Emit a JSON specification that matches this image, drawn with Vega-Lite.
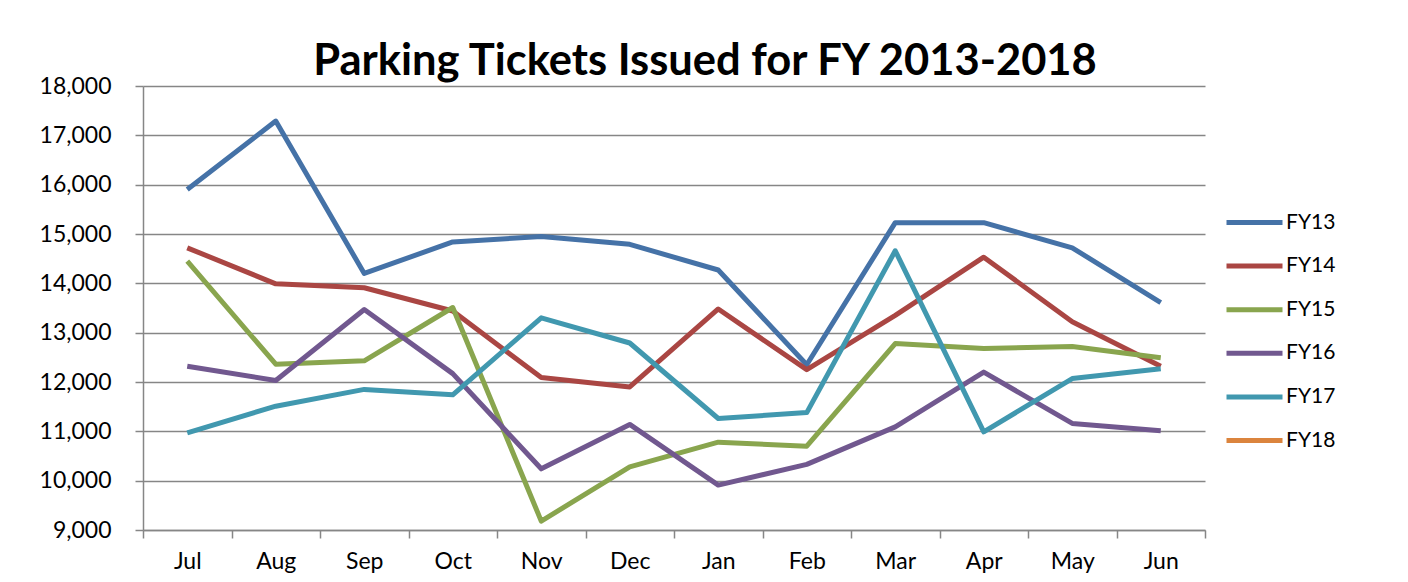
{
  "$schema": "https://vega.github.io/schema/vega-lite/v6.json",
  "width": 1062,
  "height": 444,
  "autosize": "none",
  "padding": {"left": 143, "top": 86, "right": 203, "bottom": 52},
  "background": "white",
  "title": {
    "text": "Parking Tickets Issued for FY 2013-2018",
    "font": "Lato",
    "fontSize": 43.5,
    "fontWeight": "bold",
    "color": "#000000",
    "anchor": "middle",
    "dx": 31,
    "dy": 21,
    "offset": 12
  },
  "data": {
    "values": [
      {"month": "Jul", "fy": "FY13", "tickets": 15900},
      {"month": "Aug", "fy": "FY13", "tickets": 17290},
      {"month": "Sep", "fy": "FY13", "tickets": 14200},
      {"month": "Oct", "fy": "FY13", "tickets": 14840},
      {"month": "Nov", "fy": "FY13", "tickets": 14950},
      {"month": "Dec", "fy": "FY13", "tickets": 14790},
      {"month": "Jan", "fy": "FY13", "tickets": 14270},
      {"month": "Feb", "fy": "FY13", "tickets": 12350},
      {"month": "Mar", "fy": "FY13", "tickets": 15230},
      {"month": "Apr", "fy": "FY13", "tickets": 15230},
      {"month": "May", "fy": "FY13", "tickets": 14720},
      {"month": "Jun", "fy": "FY13", "tickets": 13610},
      {"month": "Jul", "fy": "FY14", "tickets": 14720},
      {"month": "Aug", "fy": "FY14", "tickets": 13990},
      {"month": "Sep", "fy": "FY14", "tickets": 13910},
      {"month": "Oct", "fy": "FY14", "tickets": 13440},
      {"month": "Nov", "fy": "FY14", "tickets": 12090},
      {"month": "Dec", "fy": "FY14", "tickets": 11900},
      {"month": "Jan", "fy": "FY14", "tickets": 13480},
      {"month": "Feb", "fy": "FY14", "tickets": 12250},
      {"month": "Mar", "fy": "FY14", "tickets": 13350},
      {"month": "Apr", "fy": "FY14", "tickets": 14530},
      {"month": "May", "fy": "FY14", "tickets": 13220},
      {"month": "Jun", "fy": "FY14", "tickets": 12320},
      {"month": "Jul", "fy": "FY15", "tickets": 14450},
      {"month": "Aug", "fy": "FY15", "tickets": 12360},
      {"month": "Sep", "fy": "FY15", "tickets": 12430},
      {"month": "Oct", "fy": "FY15", "tickets": 13510},
      {"month": "Nov", "fy": "FY15", "tickets": 9180},
      {"month": "Dec", "fy": "FY15", "tickets": 10280},
      {"month": "Jan", "fy": "FY15", "tickets": 10780},
      {"month": "Feb", "fy": "FY15", "tickets": 10700},
      {"month": "Mar", "fy": "FY15", "tickets": 12780},
      {"month": "Apr", "fy": "FY15", "tickets": 12680},
      {"month": "May", "fy": "FY15", "tickets": 12720},
      {"month": "Jun", "fy": "FY15", "tickets": 12490},
      {"month": "Jul", "fy": "FY16", "tickets": 12320},
      {"month": "Aug", "fy": "FY16", "tickets": 12030},
      {"month": "Sep", "fy": "FY16", "tickets": 13470},
      {"month": "Oct", "fy": "FY16", "tickets": 12170},
      {"month": "Nov", "fy": "FY16", "tickets": 10240},
      {"month": "Dec", "fy": "FY16", "tickets": 11140},
      {"month": "Jan", "fy": "FY16", "tickets": 9910},
      {"month": "Feb", "fy": "FY16", "tickets": 10330},
      {"month": "Mar", "fy": "FY16", "tickets": 11090},
      {"month": "Apr", "fy": "FY16", "tickets": 12200},
      {"month": "May", "fy": "FY16", "tickets": 11160},
      {"month": "Jun", "fy": "FY16", "tickets": 11010},
      {"month": "Jul", "fy": "FY17", "tickets": 10970},
      {"month": "Aug", "fy": "FY17", "tickets": 11510},
      {"month": "Sep", "fy": "FY17", "tickets": 11850},
      {"month": "Oct", "fy": "FY17", "tickets": 11740},
      {"month": "Nov", "fy": "FY17", "tickets": 13300},
      {"month": "Dec", "fy": "FY17", "tickets": 12790},
      {"month": "Jan", "fy": "FY17", "tickets": 11260},
      {"month": "Feb", "fy": "FY17", "tickets": 11380},
      {"month": "Mar", "fy": "FY17", "tickets": 14660},
      {"month": "Apr", "fy": "FY17", "tickets": 10990},
      {"month": "May", "fy": "FY17", "tickets": 12070},
      {"month": "Jun", "fy": "FY17", "tickets": 12270}
    ]
  },
  "mark": {"type": "line", "strokeWidth": 5, "strokeJoin": "round"},
  "encoding": {
    "x": {
      "field": "month",
      "type": "ordinal",
      "sort": ["Jul", "Aug", "Sep", "Oct", "Nov", "Dec", "Jan", "Feb", "Mar", "Apr", "May", "Jun"],
      "bandPosition": 0.5,
      "scale": {"type": "band", "paddingInner": 0, "paddingOuter": 0},
      "axis": {
        "title": null,
        "labelAngle": 0,
        "tickBand": "extent",
        "tickSize": 8,
        "tickWidth": 1.5,
        "tickColor": "#868686",
        "domainColor": "#868686",
        "domainWidth": 1.5,
        "labelFont": "Lato",
        "labelFontSize": 23,
        "labelColor": "#000000",
        "labelPadding": 12,
        "grid": false
      }
    },
    "y": {
      "field": "tickets",
      "type": "quantitative",
      "scale": {"domain": [9000, 18000], "nice": false, "zero": false},
      "axis": {
        "title": null,
        "values": [9000, 10000, 11000, 12000, 13000, 14000, 15000, 16000, 17000, 18000],
        "format": ",d",
        "tickSize": 8,
        "tickWidth": 1.5,
        "tickColor": "#868686",
        "domainColor": "#868686",
        "domainWidth": 1.5,
        "gridColor": "#868686",
        "gridWidth": 1.5,
        "labelFont": "Lato",
        "labelFontSize": 23,
        "labelColor": "#000000",
        "labelPadding": 24
      }
    },
    "color": {
      "field": "fy",
      "type": "nominal",
      "scale": {
        "domain": ["FY13", "FY14", "FY15", "FY16", "FY17", "FY18"],
        "range": ["#4572A7", "#AA4643", "#89A54E", "#71588F", "#4198AF", "#DB843D"]
      },
      "legend": {
        "title": null,
        "orient": "none",
        "legendX": 1095,
        "legendY": 120,
        "padding": 0,
        "symbolType": "M-2,0H2",
        "symbolSize": 784,
        "symbolStrokeWidth": 5,
        "labelFont": "Lato",
        "labelFontSize": 21,
        "labelColor": "#000000",
        "labelOffset": 15,
        "rowPadding": 16.6
      }
    }
  },
  "config": {"view": {"stroke": null}}
}
